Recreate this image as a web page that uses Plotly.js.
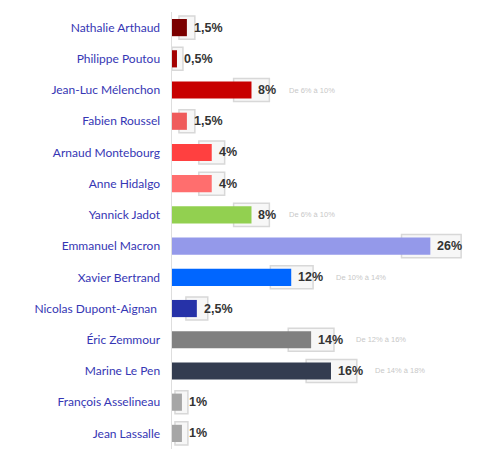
<!DOCTYPE html>
<html>
<head>
<meta charset="utf-8">
<script src="https://cdn.plot.ly/plotly-3.0.1.min.js"></script>
<style>html,body{margin:0;padding:0;background:#fff;}#chart{width:493px;height:455px;}</style>
</head>
<body>
<div id="chart"></div>
<script>
const candidates = ["Nathalie Arthaud","Philippe Poutou","Jean-Luc Mélenchon","Fabien Roussel","Arnaud Montebourg","Anne Hidalgo","Yannick Jadot","Emmanuel Macron","Xavier Bertrand","Nicolas Dupont-Aignan\u00a0","Éric Zemmour","Marine Le Pen","François Asselineau","Jean Lassalle"];
const values = [1.5,0.5,8,1.5,4,4,8,26,12,2.5,14,16,1,1];
const valueLabels = ["1,5%","0,5%","8%","1,5%","4%","4%","8%","26%","12%","2,5%","14%","16%","1%","1%"];
const rangeLow = [0.7,0.0,6.2,0.7,2.7,2.7,6.2,23.1,9.9,1.4,11.7,13.5,0.3,0.3];
const rangeHigh = [2.3,1.1,9.8,2.3,5.3,5.3,9.8,29.1,14.2,3.6,16.3,18.6,1.6,1.6];
const rangeLabels = ["","","De 6% à 10%","","","","De 6% à 10%","","De 10% à 14%","","De 12% à 16%","De 14% à 18%","",""];
const colors = ["#7a0000","#a30000","#c80000","#ef5b5b","#ff4040","#ff6e6e","#92d050","#9499ea","#0066ff","#2632a8","#808080","#333c50","#a6a6a6","#a6a6a6"];

const boxTrace = {
  type: 'bar', orientation: 'h',
  y: candidates,
  x: rangeHigh.map((h, i) => h - rangeLow[i]),
  base: rangeLow,
  width: 0.74,
  marker: {color: '#f7f7f7', line: {color: '#d8d8d8', width: 1.5}},
  hoverinfo: 'skip', showlegend: false
};
const barTrace = {
  type: 'bar', orientation: 'h',
  y: candidates, x: values,
  width: 0.55,
  marker: {color: colors, line: {width: 0}},
  showlegend: false
};

const annotations = [];
candidates.forEach((c, i) => {
  annotations.push({
    x: values[i], y: c, xref: 'x', yref: 'y',
    text: valueLabels[i], showarrow: false,
    xanchor: 'left', xshift: 5,
    font: {family: 'Liberation Sans, Arial, sans-serif', size: 12.5, color: '#333333', weight: 'bold'}
  });
  if (rangeLabels[i]) {
    annotations.push({
      x: values[i], y: c, xref: 'x', yref: 'y',
      text: rangeLabels[i], showarrow: false,
      xanchor: 'left', xshift: 23 + 6.5 * valueLabels[i].length,
      font: {family: 'Liberation Sans, Arial, sans-serif', size: 7.5, color: '#c8c8c8'}
    });
  }
});

const layout = {
  width: 493, height: 455,
  margin: {l: 172, r: 10, t: 12, b: 6},
  paper_bgcolor: '#ffffff', plot_bgcolor: '#ffffff',
  barmode: 'overlay',
  xaxis: {range: [0, 31.3], showgrid: false, zeroline: false, showticklabels: false, showline: false},
  yaxis: {
    type: 'category', categoryorder: 'array', categoryarray: candidates,
    range: [13.5, -0.5],
    showgrid: false, zeroline: false,
    showline: true, linecolor: '#dedede', linewidth: 1.5,
    ticks: 'outside', ticklen: 8, tickcolor: 'rgba(0,0,0,0)',
    tickfont: {family: 'Lato, Open Sans, sans-serif', size: 12, color: '#3636b4'}
  },
  annotations: annotations
};

Plotly.newPlot('chart', [boxTrace, barTrace], layout, {displayModeBar: false, staticPlot: true});
</script>
</body>
</html>
